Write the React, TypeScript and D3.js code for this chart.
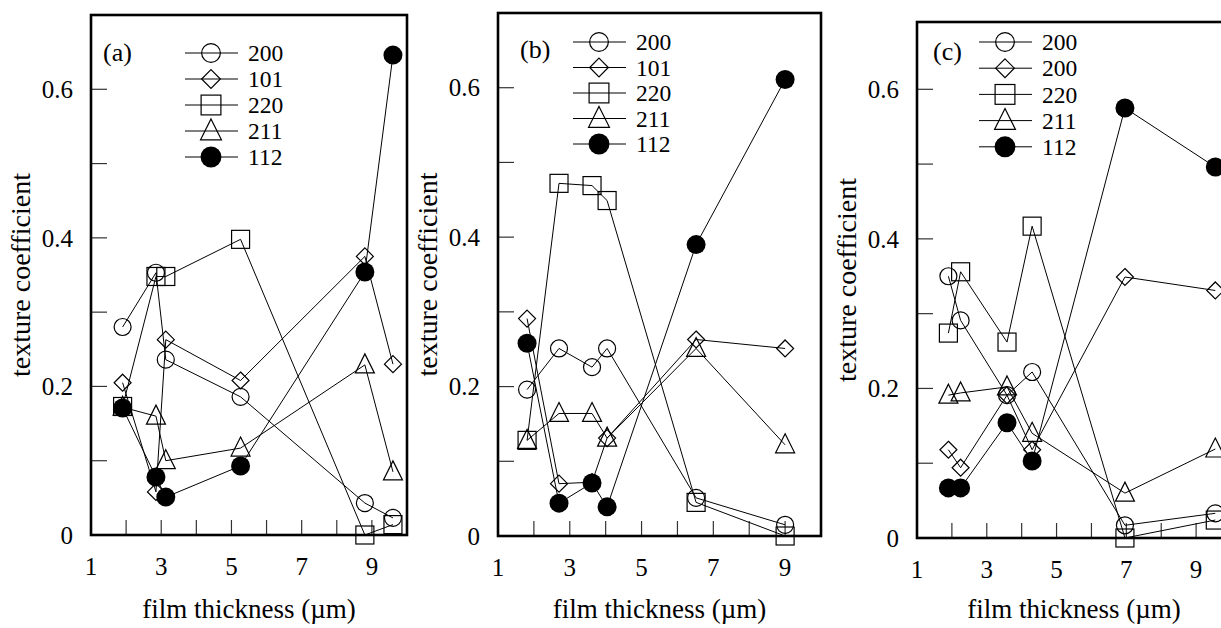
import React from 'react';
import * as d3 from 'd3';

// film thickness (um) at which each sample was measured
const thickA = [1.9, 2.85, 3.13, 5.26, 8.8, 9.6];
const thickB = [1.81, 2.7, 3.62, 4.04, 6.52, 9.0];
const thickC = [1.9, 2.25, 3.58, 4.3, 6.96, 9.55];

// texture coefficients, panel (a)
const a200 = [0.28, 0.353, 0.236, 0.186, 0.043, 0.023];
const a101 = [0.205, 0.058, 0.263, 0.208, 0.375, 0.23];
const a220 = [0.173, 0.348, 0.348, 0.398, 0.0, 0.014];
const a211 = [0.172, 0.16, 0.1, 0.117, 0.229, 0.085];
const a112 = [0.171, 0.078, 0.051, 0.093, 0.354, 0.646];

// panel (b)
const b200 = [0.196, 0.251, 0.226, 0.251, 0.051, 0.015];
const b101 = [0.291, 0.07, 0.072, 0.131, 0.263, 0.251];
const b220 = [0.128, 0.472, 0.469, 0.449, 0.045, 0.0];
const b211 = [0.128, 0.164, 0.164, 0.131, 0.251, 0.122];
const b112 = [0.258, 0.044, 0.071, 0.039, 0.39, 0.611];

// panel (c)
const c200 = [0.35, 0.291, 0.191, 0.222, 0.017, 0.033];
const c101 = [0.118, 0.094, 0.191, 0.118, 0.349, 0.331];
const c220 = [0.274, 0.356, 0.262, 0.417, 0.0, 0.024];
const c211 = [0.191, 0.194, 0.202, 0.14, 0.06, 0.119];
const c112 = [0.067, 0.067, 0.154, 0.103, 0.575, 0.496];

const markers = ['circle', 'diamond', 'square', 'triangle', 'dot'];
const legendA = ['200', '101', '220', '211', '112'];
const legendC = ['200', '200', '220', '211', '112'];
const xTickLabels = [1, 3, 5, 7, 9];
const yTickLabels = [0, 0.2, 0.4, 0.6];

const panels = [
  { tag: '(a)', x: thickA, series: [a200, a101, a220, a211, a112], legend: legendA,
    left: 91, right: 407, top: 15, bottom: 535, yMax: 0.7,
    tagX: 103, tagY: 52, legX: 185, legY: 53, legStep: 26 },
  { tag: '(b)', x: thickB, series: [b200, b101, b220, b211, b112], legend: legendA,
    left: 498, right: 821, top: 13, bottom: 536, yMax: 0.7,
    tagX: 520, tagY: 49, legX: 573, legY: 42, legStep: 25.5 },
  { tag: '(c)', x: thickC, series: [c200, c101, c220, c211, c112], legend: legendC,
    left: 917, right: 1231, top: 22, bottom: 538, yMax: 0.69,
    tagX: 933, tagY: 51, legX: 979, legY: 42, legStep: 26.2 },
];

const FONT = '"Liberation Serif", "Times New Roman", serif';

function Marker({ type, cx, cy, s = 1 }: { type: string; cx: number; cy: number; s?: number }) {
  const st = { stroke: '#000', strokeWidth: 1.2, fill: 'none' };
  if (type === 'circle') return <circle cx={cx} cy={cy} r={8.5 * s} {...st} />;
  if (type === 'dot') return <circle cx={cx} cy={cy} r={9.5 * s} fill="#000" />;
  if (type === 'square') {
    const h = 9 * s;
    return <rect x={cx - h} y={cy - h} width={2 * h} height={2 * h} {...st} />;
  }
  if (type === 'diamond') {
    const h = 8.5 * s;
    return <path d={`M${cx},${cy - h}L${cx + h},${cy}L${cx},${cy + h}L${cx - h},${cy}Z`} {...st} />;
  }
  const w = 9.5 * s;
  return <path d={`M${cx},${cy - 11 * s}L${cx + w},${cy + 8 * s}L${cx - w},${cy + 8 * s}Z`} {...st} />;
}

function Panel({ p }: { p: any }) {
  const x = d3.scaleLinear().domain([1, 10]).range([p.left, p.right]);
  const y = d3.scaleLinear().domain([0, p.yMax]).range([p.bottom, p.top]);
  const line = d3.line<number>().x((_, i) => x(p.x[i])).y(d => y(d));
  const xMinor = d3.range(2, 10);
  const yMinor = d3.range(1, 7).map(v => v / 10);
  return (
    <g fontFamily={FONT} fill="#000">
      {xMinor.map(v => (
        <line key={'xt' + v} x1={x(v)} x2={x(v)} y1={p.bottom} y2={p.bottom - 15} stroke="#333" strokeWidth={1.2} />
      ))}
      {yMinor.map(v => (
        <line key={'yt' + v} x1={p.left} x2={p.left + 16} y1={y(v)} y2={y(v)} stroke="#333" strokeWidth={1.2} />
      ))}
      {xTickLabels.map(v => (
        <text key={'xl' + v} x={x(v)} y={p.bottom + 40} textAnchor="middle" fontSize={25}>{v}</text>
      ))}
      {yTickLabels.map(v => (
        <text key={'yl' + v} x={p.left - 18} y={y(v)} dy="0.35em" textAnchor="end" fontSize={25}>
          {v === 0 ? '0' : v.toFixed(1)}
        </text>
      ))}
      <text x={(p.left + p.right) / 2} y={618} textAnchor="middle" fontSize={27}>film thickness (µm)</text>
      <text transform={`translate(${p.left - 71},${(p.top + p.bottom) / 2}) rotate(-90)`} dy="0.35em"
        textAnchor="middle" fontSize={28}>texture coefficient</text>

      {p.series.map((s: number[], k: number) => (
        <path key={'ln' + k} d={line(s) || ''} fill="none" stroke="#000" strokeWidth={1} />
      ))}
      {p.series.map((s: number[], k: number) =>
        s.map((v, i) => <Marker key={'m' + k + '-' + i} type={markers[k]} cx={x(p.x[i])} cy={y(v)} />)
      )}

      <text x={p.tagX} y={p.tagY} dy="0.35em" fontSize={26}>{p.tag}</text>
      {p.legend.map((name: string, k: number) => {
        const ly = p.legY + k * p.legStep;
        return (
          <g key={'lg' + k}>
            <line x1={p.legX} x2={p.legX + 53} y1={ly} y2={ly} stroke="#000" strokeWidth={1} />
            <Marker type={markers[k]} cx={p.legX + 26} cy={ly} s={1.1} />
            <text x={p.legX + 63} y={ly} dy="0.35em" fontSize={23.5}>{name}</text>
          </g>
        );
      })}

      <rect x={p.left} y={p.top} width={p.right - p.left} height={p.bottom - p.top}
        fill="none" stroke="#000" strokeWidth={2.6} />
    </g>
  );
}

export default function App() {
  return (
    <svg width={1221} height={628} style={{ position: 'absolute', left: 0, top: 0, background: '#fff' }}>
      {panels.map(p => <Panel key={p.tag} p={p} />)}
    </svg>
  );
}
